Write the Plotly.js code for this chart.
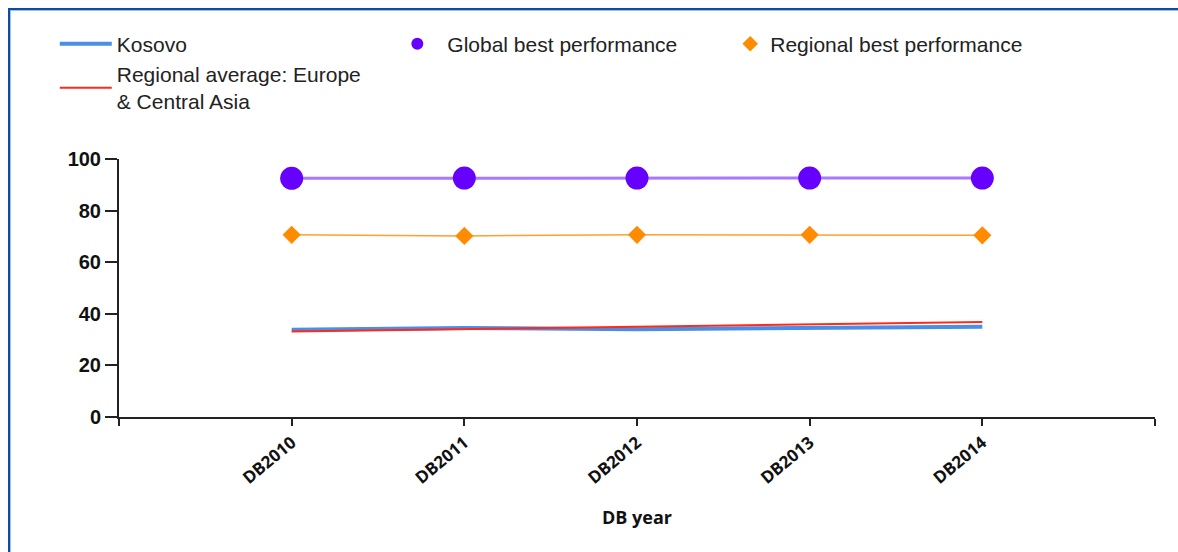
<!DOCTYPE html>
<html>
<head>
<meta charset="utf-8">
<script src="https://cdn.plot.ly/plotly-3.0.1.min.js"></script>
<style>
  html, body { margin: 0; padding: 0; background: #fff; }
  #wrap { position: relative; width: 1178px; height: 552px; overflow: hidden; }
  #frame { position: absolute; left: 8px; top: 8px; width: 1200px; height: 600px;
           border-left: 2px solid #0b4f9c; border-top: 2px solid #0b4f9c;
           box-shadow: inset 1px 1px 0 #9cc1e8; pointer-events: none; z-index: 2; }
  #chart { position: absolute; left: 0; top: 0; width: 1178px; height: 552px; }
</style>
</head>
<body>
<div id="wrap">
  <div id="chart"></div>
  <div id="frame"></div>
</div>
<script>
// ---- data ----
const categories = ["DB2010", "DB2011", "DB2012", "DB2013", "DB2014"];
const kosovo = [33.8, 34.5, 34.0, 34.5, 35.0];
const regionalAverage = [33.1, 34.0, 35.0, 36.0, 36.8];
const globalBest = [92.5, 92.6, 92.6, 92.6, 92.6];
const regionalBest = [70.6, 70.2, 70.6, 70.6, 70.4];
const yTicks = [0, 20, 40, 60, 80, 100];
const seriesNames = ["Kosovo", "Regional average: Europe<br>& Central Asia", "Global best performance", "Regional best performance"];
const xTitle = "DB year";

// ---- build ----
const xs = categories.map((c, i) => i);
const tickVals = [-1].concat(xs, [categories.length]);
const tickText = [""].concat(categories, [""]);

const traces = [
  { x: xs, y: kosovo, name: seriesNames[0], mode: "lines", legend: "legend",
    line: { color: "#4a8fe7", width: 4 } },
  { x: xs, y: regionalAverage, name: seriesNames[1], mode: "lines", legend: "legend",
    line: { color: "#ff2a1a", width: 2 } },
  { x: xs, y: globalBest, name: seriesNames[2], mode: "lines", showlegend: false,
    line: { color: "#a878ff", width: 3 } },
  { x: xs, y: globalBest, name: seriesNames[2], mode: "markers", legend: "legend2",
    marker: { color: "#6600ff", size: 23, symbol: "circle" } },
  { x: xs, y: regionalBest, name: seriesNames[3], mode: "lines", showlegend: false,
    line: { color: "#ffa030", width: 1.5 } },
  { x: xs, y: regionalBest, name: seriesNames[3], mode: "markers", legend: "legend3",
    marker: { color: "#ff8c00", size: 14, symbol: "diamond" } }
];

const legendFont = { family: "Liberation Sans, Arial, sans-serif", size: 21, color: "#222" };
const layout = {
  width: 1178, height: 552,
  margin: { l: 119, r: 23, t: 159, b: 135 },
  paper_bgcolor: "#fff", plot_bgcolor: "#fff",
  showlegend: true,
  xaxis: {
    range: [-1, categories.length], tickmode: "array", tickvals: tickVals, ticktext: tickText,
    showgrid: false, zeroline: false, showline: true, linecolor: "#222", linewidth: 2,
    ticks: "outside", ticklen: 7, tickwidth: 2, tickcolor: "#222",
    tickangle: -40,
    tickfont: { family: "Open Sans, sans-serif", size: 17, color: "#111", weight: 700 },
    title: { text: xTitle, font: { family: "Open Sans, sans-serif", size: 18, color: "#111", weight: 700 }, standoff: 24 }
  },
  yaxis: {
    range: [0, 100], tickmode: "array", tickvals: yTicks,
    showgrid: false, zeroline: false, showline: true, linecolor: "#222", linewidth: 2,
    ticks: "outside", ticklen: 12, tickwidth: 2, tickcolor: "#222",
    tickfont: { family: "Liberation Sans, Arial, sans-serif", size: 20, color: "#111", weight: 700 }
  },
  legend: { x: -0.062, y: 1.525, xanchor: "left", yanchor: "top", font: legendFont,
            bgcolor: "rgba(0,0,0,0)", itemwidth: 52, tracegroupgap: 0 },
  legend2: { x: 0.259, y: 1.525, xanchor: "left", yanchor: "top", font: legendFont,
             bgcolor: "rgba(0,0,0,0)", itemsizing: "constant", itemwidth: 50 },
  legend3: { x: 0.59, y: 1.525, xanchor: "left", yanchor: "top", font: legendFont,
             bgcolor: "rgba(0,0,0,0)", itemsizing: "constant" }
};

Plotly.newPlot("chart", traces, layout, { displayModeBar: false, staticPlot: true });
</script>
</body>
</html>
